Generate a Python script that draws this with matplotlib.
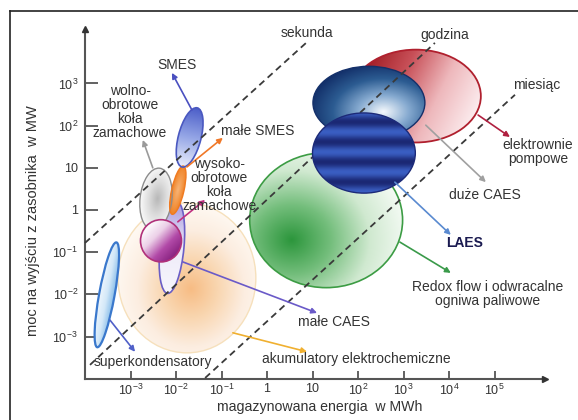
import numpy as np
import matplotlib
matplotlib.use('Agg')
import matplotlib.pyplot as plt
from matplotlib.patches import Ellipse
from matplotlib.colors import LinearSegmentedColormap

plt.rcParams['font.family'] = ['Liberation Sans', 'DejaVu Sans']
plt.rcParams['mathtext.fontset'] = 'custom'
plt.rcParams['mathtext.rm'] = 'Liberation Sans'
plt.rcParams['mathtext.it'] = 'Liberation Sans:italic'
plt.rcParams['mathtext.bf'] = 'Liberation Sans:bold'

TXT = '#333333'

# technology areas, all in decades: log10(energy MWh), log10(power MW)
tech = ['akumulatory', 'superkondensatory', 'Redox', 'pompowe', 'duze_CAES', 'male_CAES',
        'wolno', 'magenta', 'wysoko', 'SMES', 'LAES']
log_e = [-1.76, -3.52, 1.30, 3.27, 2.24, -2.09, -2.44, -2.33, -1.96, -1.70, 2.13]
log_p = [-1.61, -2.01, -0.24, 2.70, 2.54, -0.88, 0.26, -0.73, 0.47, 1.72, 1.35]
span_a = [3.03, 2.52, 3.36, 2.86, 2.46, 2.20, 1.47, 0.90, 1.17, 1.44, 2.26]
span_b = [3.55, 0.34, 3.20, 2.20, 1.73, 0.53, 0.70, 1.00, 0.27, 0.50, 1.90]
tilt = [0, 80.4, 0, 0, 0, 85, 84, 0, 78, 76.7, 0]

# discharge-time lines (sekunda, godzina, miesiąc)
time_names = ['sekunda', 'godzina', 'miesiąc']
time_e = [(-4.0, 0.88), (-3.89, 3.69), (-1.36, 5.45)]
time_p = [(-0.78, 3.98), (-3.67, 3.96), (-3.98, 2.73)]

x_ticks = [-3, -2, -1, 0, 1, 2, 3, 4, 5]
y_ticks = [-3, -2, -1, 0, 1, 2, 3]


def tick_label(k):
    if k == 0:
        return '1'
    if k == 1:
        return '10'
    return '10$^{%d}$' % k


style = {
    'akumulatory': dict(kind='radial', par=(0.05, -0.15), z=1, ec='#f6e0bc', lw=1.0,
                        colors=['#f7bc84', '#f9d6b0', '#fcede0', '#fffaf4']),
    'superkondensatory': dict(kind='linear', par=(0, 1), z=2, ec='#3a78cc', lw=1.6,
                              colors=['#86bce9', '#d3e8f8', '#eef6fd']),
    'Redox': dict(kind='radial', par=(-0.45, -0.3), z=2, ec='#3c9c44', lw=1.2,
                  colors=['#2c963c', '#74be7c', '#d0e9d0', '#f5fbf5']),
    'pompowe': dict(kind='linear', par=(1, -0.35), z=2, ec='#b0202e', lw=1.3,
                    colors=['#9e1820', '#c85058', '#eeb8bc', '#fcecee']),
    'duze_CAES': dict(kind='radial', par=(0.25, -0.25), z=3, ec='#14306a', lw=1.0,
                      colors=['#f5f9fd', '#86aad0', '#2c5c92', '#122e68']),
    'male_CAES': dict(kind='linear', par=(1, 0), z=3, ec='#6a5ec6', lw=1.2,
                      colors=['#f7f6fc', '#eeebf9', '#a696de']),
    'wolno': dict(kind='radial', par=(0.0, -0.1), z=4, ec='#8c8c8c', lw=1.0,
                  colors=['#b8b8b8', '#dddddd', '#fbfbfb']),
    'magenta': dict(kind='linear', par=(0.7, -0.7), z=5, ec='#b0307a', lw=1.2,
                    colors=['#ffffff', '#ecd0e8', '#b24aa8', '#86207e']),
    'wysoko': dict(kind='radial', par=(0.0, 0.0), z=4, ec='#f07a20', lw=1.0,
                   colors=['#f8b476', '#f08428']),
    'SMES': dict(kind='linear', par=(1, 0), z=4, ec='#4a58c0', lw=1.2,
                 colors=['#eaeefb', '#95a6e6', '#4c5ec8']),
    'LAES': dict(kind='stripes', par=4 * np.pi, z=7, ec='#1c2a78', lw=1.0,
                 colors=['#1b2874', '#3a5ec2']),
}


def shade(ax, e, st):
    cx, cy = e.center
    w, h = e.width, e.height
    r = max(w, h) / 2 + 0.05
    xs = np.linspace(cx - r, cx + r, 240)
    ys = np.linspace(cy - r, cy + r, 240)
    X, Y = np.meshgrid(xs, ys)
    a = np.deg2rad(e.angle)
    U = ((X - cx) * np.cos(a) + (Y - cy) * np.sin(a)) / (w / 2)
    V = (-(X - cx) * np.sin(a) + (Y - cy) * np.cos(a)) / (h / 2)
    if st['kind'] == 'radial':
        fu, fv = st['par']
        T = np.hypot(U - fu, V - fv) / (1 + np.hypot(fu, fv))
    elif st['kind'] == 'linear':
        du, dv = st['par']
        T = ((U * du + V * dv) / np.hypot(du, dv) + 1) / 2
    else:
        T = 0.5 - 0.5 * np.cos(st['par'] * (V + 0.225))
    T = np.clip(T, 0, 1)
    cmap = LinearSegmentedColormap.from_list('g', st['colors'])
    im = ax.imshow(T, extent=(cx - r, cx + r, cy - r, cy + r), origin='lower',
                   cmap=cmap, vmin=0, vmax=1, aspect='auto',
                   interpolation='bilinear', zorder=st['z'])
    im.set_clip_path(e)


fig = plt.figure(figsize=(5.78, 4.2), dpi=100)
ax = fig.add_axes([0, 0, 1, 1])

for name, x, y, a, b, t in zip(tech, log_e, log_p, span_a, span_b, tilt):
    st = style[name]
    e = Ellipse((x, y), a, b, angle=t, facecolor='none', edgecolor=st['ec'],
                lw=st['lw'], zorder=st['z'] + 0.5)
    ax.add_patch(e)
    shade(ax, e, st)

for name, xe, yp in zip(time_names, time_e, time_p):
    ax.plot(xe, yp, color='#3a3a3a', lw=1.3, ls=(0, (3.7, 2.5)), zorder=6)

# pointer lines: start, tip, colour
pointers = [
    ((-1.65, 2.37), (-2.09, 3.25), '#4a50c0'),
    ((-1.76, 1.02), (-0.97, 1.71), '#f07828'),
    ((-2.51, 1.00), (-2.73, 1.66), '#9a9a9a'),
    ((-1.96, -0.28), (-1.36, 0.24), '#c03080'),
    ((-1.85, -1.23), (1.10, -2.44), '#6a5ac8'),
    ((-3.45, -2.61), (-2.90, -3.36), '#5060c8'),
    ((-0.75, -2.91), (0.88, -3.36), '#f0b030'),
    ((2.92, -0.76), (4.04, -1.49), '#3a9a4a'),
    ((2.81, 0.66), (4.04, -0.59), '#5a8ad0'),
    ((3.49, 2.01), (4.81, 0.66), '#a0a0a0'),
    ((4.64, 2.25), (5.34, 1.73), '#b02040'),
]
for start, tip, c in pointers:
    ax.annotate('', xy=tip, xytext=start, zorder=8,
                arrowprops=dict(arrowstyle='-|>', color=c, lw=1.2,
                                mutation_scale=8, shrinkA=0, shrinkB=0))

fs = 10
labels = [
    ('sekunda', 0.88, 4.19, 'center'),
    ('godzina', 3.91, 4.15, 'center'),
    ('miesiąc', 5.93, 2.96, 'center'),
    ('SMES', -1.98, 3.44, 'center'),
    ('wolno-\nobrotowe\nkoła\nzamachowe', -3.01, 2.32, 'center'),
    ('małe SMES', -1.01, 1.87, 'left'),
    ('wysoko-\nobrotowe\nkoła\nzamachowe', -1.05, 0.59, 'center'),
    ('superkondensatory', -2.51, -3.60, 'center'),
    ('małe CAES', 1.47, -2.65, 'center'),
    ('akumulatory elektrochemiczne', 1.96, -3.53, 'center'),
    ('Redox flow i odwracalne\nogniwa paliwowe', 4.84, -1.99, 'center'),
    ('duże CAES', 4.79, 0.36, 'center'),
    ('elektrownie\npompowe', 5.96, 1.37, 'center'),
]
for s, x, y, ha in labels:
    ax.text(x, y, s, ha=ha, va='center', fontsize=fs, color=TXT,
            linespacing=1.0, zorder=9, multialignment='center')
ax.text(4.35, -0.78, 'LAES', ha='center', va='center', fontsize=fs,
        fontweight='bold', color='#1a1a50', zorder=9)

ax.text(-5.14, -0.26, 'moc na wyjściu z zasobnika  w MW', rotation=90,
        ha='center', va='center', fontsize=10.5, color=TXT)
ax.text(1.16, -4.68, 'magazynowana energia  w MWh', ha='center', va='center',
        fontsize=10.2, color=TXT)

# axes as arrows
for s in ['top', 'right']:
    ax.spines[s].set_visible(False)
ax.spines['left'].set_position(('data', -4))
ax.spines['bottom'].set_position(('data', -4))
ax.spines['left'].set_bounds(-4, 4.3)
ax.spines['bottom'].set_bounds(-4, 6.1)
for s in ['left', 'bottom']:
    ax.spines[s].set_color('#555555')
    ax.spines[s].set_linewidth(1.5)
ax.plot(-4, 4.3, marker='^', color='#333333', ms=5, clip_on=False, zorder=10)
ax.plot(6.1, -4, marker='>', color='#333333', ms=5, clip_on=False, zorder=10)

ax.set_xticks(x_ticks)
ax.set_xticklabels([tick_label(k) for k in x_ticks])
ax.set_yticks(y_ticks)
ax.set_yticklabels([tick_label(k) for k in y_ticks])
ax.tick_params(axis='x', direction='in', length=6, width=1.3, color='#555555',
               labelsize=9, labelcolor=TXT, pad=3)
ax.tick_params(axis='y', direction='in', length=9, width=1.3, color='#555555',
               labelsize=9, labelcolor=TXT, pad=5)

ax.set_xlim(-267 / 45.5, 311 / 45.5)
ax.set_ylim(-210 / 42.2, 210 / 42.2)
ax.patch.set_alpha(0)

# frame of the figure
fig.add_artist(plt.Line2D([10 / 578, 1], [1 - 11 / 420] * 2, color='#222222', lw=1.2))
fig.add_artist(plt.Line2D([10 / 578] * 2, [0, 1 - 11 / 420], color='#222222', lw=1.2))

fig.savefig('out.png', dpi=100)
